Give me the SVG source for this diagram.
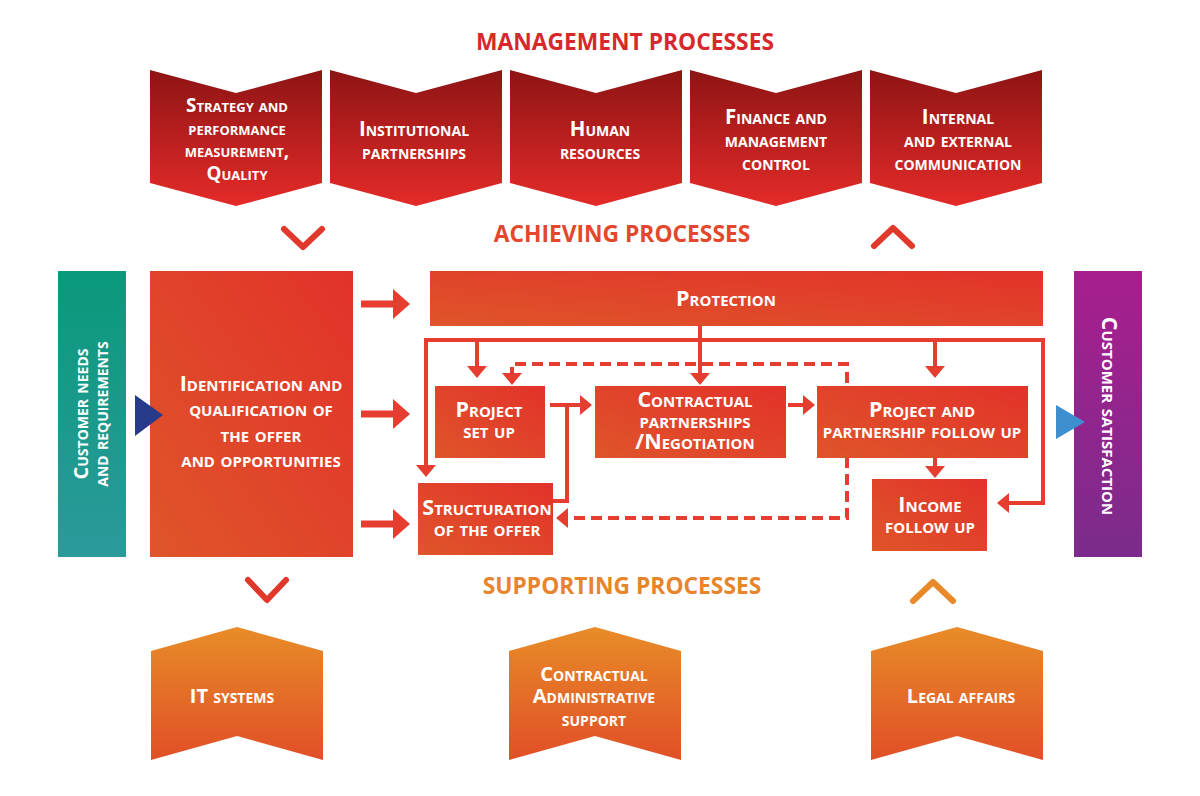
<svg xmlns="http://www.w3.org/2000/svg" width="1200" height="796" viewBox="0 0 1200 796">
<style>
.t{font-family:"Open Sans","Liberation Sans",sans-serif;font-weight:bold;font-variant:small-caps;fill:#fff;font-size:21.5px;text-anchor:middle}
.tm{font-size:20.5px}
.tm1{font-size:18.8px}
.ts{font-size:20px}
.h{font-family:"Open Sans","Liberation Sans",sans-serif;font-weight:bold;font-size:22.8px;text-anchor:middle}
.c{fill:none;stroke:#e53d30;stroke-width:4}
.d{fill:none;stroke:#e53d30;stroke-width:4;stroke-dasharray:11 6}
.big{fill:none;stroke:#e53d30;stroke-width:7}
.chev{fill:none;stroke-width:6;stroke-linecap:round;stroke-linejoin:round}
</style>
<defs>
<linearGradient id="gm" x1="0" y1="0" x2="0" y2="1"><stop offset="0" stop-color="#8e1414"/><stop offset="1" stop-color="#e42b29"/></linearGradient>
<linearGradient id="gs" x1="0" y1="0" x2="0" y2="1"><stop offset="0" stop-color="#e88c28"/><stop offset="1" stop-color="#e14f27"/></linearGradient>
<linearGradient id="gb" x1="0" y1="1" x2="1" y2="0"><stop offset="0" stop-color="#df552a"/><stop offset="1" stop-color="#e2322a"/></linearGradient>
<linearGradient id="gt" x1="0" y1="0" x2="0" y2="1"><stop offset="0" stop-color="#0a997b"/><stop offset="1" stop-color="#2b9a9b"/></linearGradient>
<linearGradient id="gp" x1="0" y1="0" x2="0" y2="1"><stop offset="0" stop-color="#a81e8f"/><stop offset="1" stop-color="#7b2c8b"/></linearGradient>
<marker id="a" markerUnits="userSpaceOnUse" markerWidth="12" markerHeight="20" refX="5" refY="10" orient="auto-start-reverse"><path d="M0,0 L12,10 L0,20 Z" fill="#e53d30"/></marker>
<marker id="ab" markerUnits="userSpaceOnUse" markerWidth="17" markerHeight="30" refX="6" refY="15" orient="auto"><path d="M0,0 L17,15 L0,30 Z" fill="#e53d30"/></marker>
</defs>
<rect width="1200" height="796" fill="#fff"/>

<text class="h" x="625" y="50" fill="#d7282b">MANAGEMENT PROCESSES</text>
<text class="h" x="622" y="242" fill="#e4482c">ACHIEVING PROCESSES</text>
<text class="h" x="622" y="594" fill="#e8842c">SUPPORTING PROCESSES</text>

<g id="markers-chevrons">
<polyline class="chev" stroke="#e0392b" points="284,229 303,247 322,229"/>
<polyline class="chev" stroke="#e0392b" points="874,246 893,228 912,246"/>
<polyline class="chev" stroke="#e0392b" points="248,580 267,600 286,580"/>
<polyline class="chev" stroke="#e88a2a" points="913,601 933,582 953,601"/>
</g>

<g id="m1"><path d="M150,70 L236,93 L322,70 L322,183 L236,206 L150,183 Z" fill="url(#gm)"/>
<text class="t tm1"><tspan x="237" y="112">Strategy and</tspan><tspan x="237" y="135">performance</tspan><tspan x="237" y="157">measurement,</tspan><tspan x="237" y="180">Quality</tspan></text></g>
<g id="m2"><path d="M330,70 L416,93 L502,70 L502,183 L416,206 L330,183 Z" fill="url(#gm)"/>
<text class="t tm"><tspan x="414" y="136">Institutional</tspan><tspan x="414" y="159">partnerships</tspan></text></g>
<g id="m3"><path d="M510,70 L596,93 L682,70 L682,183 L596,206 L510,183 Z" fill="url(#gm)"/>
<text class="t tm"><tspan x="600" y="136">Human</tspan><tspan x="600" y="159">resources</tspan></text></g>
<g id="m4"><path d="M690,70 L776,93 L862,70 L862,183 L776,206 L690,183 Z" fill="url(#gm)"/>
<text class="t tm"><tspan x="776" y="124">Finance and</tspan><tspan x="776" y="147">management</tspan><tspan x="776" y="170">control</tspan></text></g>
<g id="m5"><path d="M870,70 L956,93 L1042,70 L1042,183 L956,206 L870,183 Z" fill="url(#gm)"/>
<text class="t tm"><tspan x="958" y="124">Internal</tspan><tspan x="958" y="147">and external</tspan><tspan x="958" y="170">communication</tspan></text></g>

<g id="connectors">
<path class="c" d="M733,340 H426 V470" marker-end="url(#a)"/>
<path class="c" d="M700,340 H1043 V503 H1004" marker-end="url(#a)"/>
<path class="c" d="M700,326 V378" marker-end="url(#a)"/>
<path class="c" d="M477,340 V371" marker-end="url(#a)"/>
<path class="c" d="M935,340 V371" marker-end="url(#a)"/>
<path class="d" d="M512,378 V364 H847 V518 H563" marker-start="url(#a)" marker-end="url(#a)"/>
<path class="c" d="M550,405 H585" marker-end="url(#a)"/>
<path class="c" d="M553,501 H567 V405"/>
<path class="c" d="M788,405 H808" marker-end="url(#a)"/>
<path class="c" d="M935,458 V471" marker-end="url(#a)"/>
<path class="big" d="M361,304 H399" marker-end="url(#ab)"/>
<path class="big" d="M361,414 H399" marker-end="url(#ab)"/>
<path class="big" d="M361,524 H399" marker-end="url(#ab)"/>
</g>

<g id="customer-needs"><rect x="58" y="271" width="68" height="286" fill="url(#gt)"/>
<text class="t ts" transform="translate(88,414) rotate(-90)"><tspan x="0" y="0">Customer needs</tspan><tspan x="0" y="20">and requirements</tspan></text></g>

<g id="identification"><rect x="150" y="271" width="203" height="286" fill="url(#gb)"/>
<text class="t"><tspan x="261" y="391">Identification and</tspan><tspan x="261" y="416">qualification of</tspan><tspan x="261" y="442">the offer</tspan><tspan x="261" y="467">and opportunities</tspan></text></g>

<g id="protection"><rect x="430" y="271" width="613" height="55" fill="url(#gb)"/>
<text class="t" x="726" y="306">Protection</text></g>

<g id="project-setup"><rect x="435" y="386" width="110" height="72" fill="url(#gb)"/>
<text class="t"><tspan x="489" y="417">Project</tspan><tspan x="489" y="438">set up</tspan></text></g>

<g id="contractual"><rect x="595" y="386" width="191" height="72" fill="url(#gb)"/>
<text class="t"><tspan x="695" y="407">Contractual</tspan><tspan x="695" y="428">partnerships</tspan><tspan x="695" y="449">/Negotiation</tspan></text></g>

<g id="pp-follow"><rect x="817" y="386" width="211" height="72" fill="url(#gb)"/>
<text class="t"><tspan x="922" y="417">Project and</tspan><tspan x="922" y="438">partnership follow up</tspan></text></g>

<g id="structuration"><rect x="418" y="483" width="135" height="72" fill="url(#gb)"/>
<text class="t"><tspan x="487" y="515">Structuration</tspan><tspan x="487" y="536">of the offer</tspan></text></g>

<g id="income"><rect x="872" y="479" width="115" height="72" fill="url(#gb)"/>
<text class="t"><tspan x="930" y="512">Income</tspan><tspan x="930" y="533">follow up</tspan></text></g>

<g id="customer-satisfaction"><rect x="1074" y="271" width="68" height="286" fill="url(#gp)"/>
<text class="t" transform="translate(1102,416) rotate(90)" x="0" y="0">Customer satisfaction</text></g>

<g id="s1"><path d="M151,651 L237,627 L323,651 L323,760 L237,736 L151,760 Z" fill="url(#gs)"/>
<text class="t ts" x="232" y="703">IT systems</text></g>
<g id="s2"><path d="M509,651 L595,627 L681,651 L681,760 L595,736 L509,760 Z" fill="url(#gs)"/>
<text class="t ts"><tspan x="594" y="681">Contractual</tspan><tspan x="594" y="703">Administrative</tspan><tspan x="594" y="726">support</tspan></text></g>
<g id="s3"><path d="M871,651 L957,627 L1043,651 L1043,760 L957,736 L871,760 Z" fill="url(#gs)"/>
<text class="t ts" x="961" y="703">Legal affairs</text></g>

<g id="flow-triangles">
<polygon points="135,395 163,415 135,436" fill="#283a8a"/>
<polygon points="1056,405 1085,422 1056,439" fill="#3d8fd0"/>
</g>
</svg>
